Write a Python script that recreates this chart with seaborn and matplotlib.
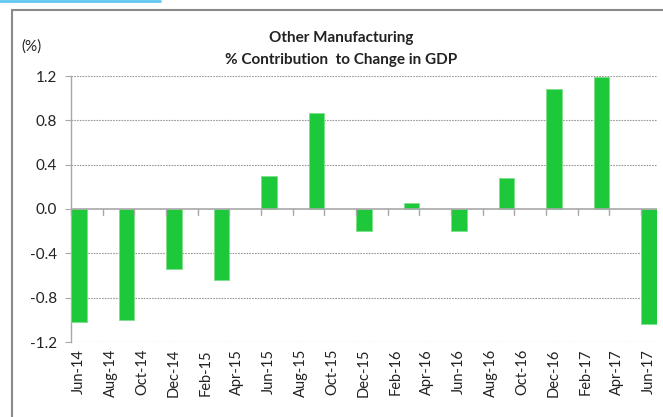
import matplotlib
matplotlib.use("Agg")
import matplotlib.pyplot as plt
from matplotlib.lines import Line2D
from matplotlib.ticker import FixedLocator
import numpy as np
import pandas as pd
import seaborn as sns

# Monthly axis from Jun-14 to Jun-17; values are reported quarterly
months = pd.date_range("2014-06-01", "2017-06-01", freq="MS")
month_labels = [d.strftime("%b-%y") for d in months]
quarters = ["Jun-14", "Sep-14", "Dec-14", "Mar-15", "Jun-15", "Sep-15", "Dec-15",
            "Mar-16", "Jun-16", "Sep-16", "Dec-16", "Mar-17", "Jun-17"]
contribution = [-1.02, -1.00, -0.54, -0.64, 0.30, 0.865, -0.20,
                0.055, -0.20, 0.28, 1.08, 1.19, -1.04]
y_ticks = [-1.2, -0.8, -0.4, 0.0, 0.4, 0.8, 1.2]

lookup = dict(zip(quarters, contribution))
df = pd.DataFrame({"month": month_labels,
                   "value": [lookup.get(m, np.nan) for m in month_labels]})

sns.set_theme(style="white")
plt.rcParams["font.family"] = ["Lato", "DejaVu Sans"]

W, H = 663, 417
fig = plt.figure(figsize=(W / 100, H / 100), dpi=100)
ax = fig.add_axes([71 / W, 1 - 342 / H, (657 - 71) / W, (342 - 76) / H])

sns.barplot(data=df, x="month", y="value", order=month_labels, ax=ax,
            color="#1dc83a", saturation=1, width=0.96, errorbar=None,
            edgecolor="#7fe08a", linewidth=0.6, zorder=3)

ax.set_xlim(-0.5, len(month_labels) - 0.5)
ax.set_ylim(-1.2, 1.2)
ax.set_xlabel("")
ax.set_ylabel("")

# Gridlines
for yv in y_ticks:
    if yv != 0:
        ax.axhline(yv, color="#9a9a9a", lw=0.8, ls=(0, (1.5, 1.0)), zorder=1)
ax.axhline(0, color="#a8a8a8", lw=1.2, zorder=4)

for s in ["top", "right", "bottom"]:
    ax.spines[s].set_visible(False)
ax.spines["left"].set_color("#a8a8a8")
ax.spines["left"].set_linewidth(1.0)

ax.set_yticks(y_ticks)
ax.set_yticklabels([f"{v:.1f}" for v in y_ticks], fontsize=11, color="#222222")
ax.tick_params(axis="y", length=4, width=0.8, color="#a8a8a8", pad=6, left=True)

# Labels every second month; tick marks on the zero line between them
label_pos = list(range(0, len(month_labels), 2))
ax.xaxis.set_major_locator(FixedLocator(label_pos))
ax.set_xticklabels([month_labels[i] for i in label_pos], rotation=90,
                   fontsize=10.5, color="#222222")
ax.tick_params(axis="x", length=0, pad=5)

tick_pos = [p - 0.5 for p in label_pos]
for tx in tick_pos:
    ax.plot([tx, tx], [0, -0.05], color="#a8a8a8", lw=1.0, zorder=4,
            clip_on=False)

# Titles
fig.text(341 / W, 1 - 38 / H, "Other Manufacturing", ha="center", va="center",
         fontsize=11, fontweight="bold", color="#222222")
fig.text(341 / W, 1 - 60 / H, "% Contribution  to Change in GDP", ha="center",
         va="center", fontsize=11, fontweight="bold", color="#222222")
fig.text(31 / W, 1 - 47 / H, "(%)", ha="center", va="center", fontsize=11,
         color="#222222")

# Chart frame and page accent
fig.add_artist(Line2D([12 / W, 1.0], [1 - 10 / H, 1 - 10 / H], color="#8a8a8a",
                      lw=1.5, transform=fig.transFigure))
fig.add_artist(Line2D([12 / W, 12 / W], [1 - 10 / H, 0.0], color="#8a8a8a",
                      lw=1.5, transform=fig.transFigure))
fig.add_artist(Line2D([0, 160 / W], [1 - 1 / H, 1 - 1 / H], color="#5ec8f2",
                      lw=2.0, transform=fig.transFigure))

fig.savefig("out.png", dpi=100)
